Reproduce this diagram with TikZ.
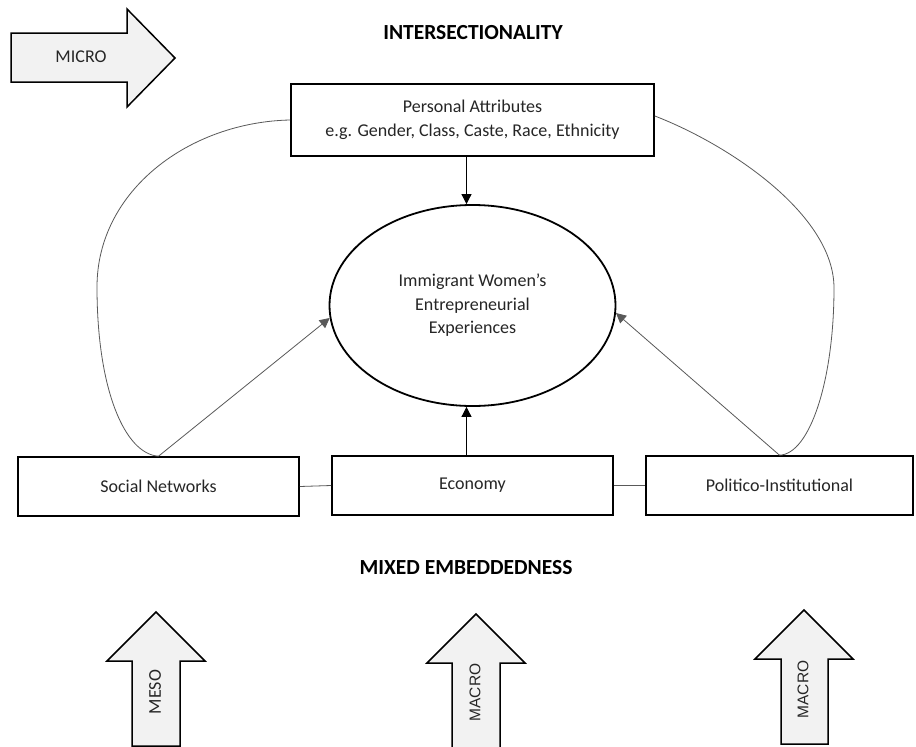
\documentclass[tikz,border=0pt]{standalone}
\usepackage{fontspec}
\setmainfont{Carlito}
\newfontfamily\arialfont{Liberation Sans}
\usetikzlibrary{arrows.meta,shapes.geometric}

\definecolor{txt}{HTML}{262626}
\definecolor{blockfill}{HTML}{F2F2F2}
\definecolor{linkgray}{HTML}{595959}

\tikzset{
  box/.style={draw=black, line width=1.6pt, minimum width=#1, minimum height=59pt,
    inner sep=0pt, text=txt, font=\fontsize{18}{24}\selectfont, align=center},
  oval/.style={ellipse, draw=black, line width=1.8pt, minimum width=286pt,
    minimum height=201pt, inner sep=0pt, text=txt,
    font=\fontsize{18}{23.5}\selectfont, align=center},
  heading/.style={text=black, font=\fontsize{21.5}{25}\selectfont\bfseries, inner sep=0pt},
  blockarrow/.style={draw=black, line width=1.5pt, fill=blockfill, line join=miter},
  blocktext/.style={text=txt, font=\fontsize{18}{22}\selectfont, inner sep=0pt},
  blocktextarial/.style={text=txt, font=\arialfont\fontsize{15.5}{20}\selectfont, inner sep=0pt},
  tip/.style={-{Triangle[length=10pt,width=10pt]}},
  link/.style={draw=linkgray, line width=0.8pt},
  straight/.style={draw=black, line width=0.8pt},
}

\begin{document}
\begin{tikzpicture}[x=1pt, y=-1pt]
\path[use as bounding box, clip] (0,0) rectangle (916,747);
\fill[white] (0,0) rectangle (916,747);

% headings
\node[heading] (inter) at (473,33) {INTERSECTIONALITY};
\node[heading] (mixed) at (466,568) {MIXED EMBEDDEDNESS};

% micro block arrow
\draw[blockarrow] (11,33) -- (127,33) -- (127,9) -- (175,58) -- (127,107)
  -- (127,82) -- (11,82) -- cycle;
\node[blocktext] (micro) at (81,57) {MICRO};

% level boxes
\node[box=363pt, minimum height=72pt] (pa) at (472.5,120)
  {Personal Attributes\\e.g. Gender, Class, Caste, Race, Ethnicity};
\node[oval] (el) at (472.5,305.5)
  {Immigrant Women’s\\Entrepreneurial\\Experiences};
\node[box=281pt] (sn) at (158.5,486.5) {Social Networks};
\node[box=281pt] (ec) at (472.5,485.5) {Economy};
\node[box=267pt] (po) at (779.5,485.5) {Politico-Institutional};

% connectors
\draw[straight, tip] ([xshift=-6pt]pa.south) -- ([xshift=-6pt]el.north);
\draw[straight, tip] ([xshift=-6pt]ec.north) -- ([xshift=-6pt]el.south);
\draw[link, tip] (sn.north) -- (el.185);
\draw[link, tip] (po.north) -- (el.-3);
\draw[link] (sn.east) -- (ec.west);
\draw[link] (ec.east) -- (po.west);

% curved ties from personal attributes to the outer boxes
\coordinate (lmid) at (97,287);
\coordinate (rmid) at (834,288);
\draw[link] (pa.west) .. controls (190,122) and (97,190) .. (lmid)
  .. controls (97,390) and (125,454) .. (sn.north);
\draw[link] ([yshift=4pt]pa.east) .. controls (730,145) and (834,215) .. (rmid)
  .. controls (834,380) and (810,454) .. (po.north);

% meso / macro block arrows
\draw[blockarrow] (132,746) -- (132,661) -- (107,661) -- (156,612) -- (205,661)
  -- (180,661) -- (180,746) -- cycle;
\node[blocktext, rotate=90] (meso) at (155,692) {MESO};

\draw[blockarrow] (452,750) -- (452,663) -- (427,663) -- (476,614) -- (525,663)
  -- (500,663) -- (500,750) -- cycle;
\node[blocktextarial, rotate=90] (macroa) at (475,692.5) {MACRO};

\draw[blockarrow] (781,744) -- (781,659) -- (755,659) -- (804,610) -- (853,659)
  -- (828,659) -- (828,744) -- cycle;
\node[blocktextarial, rotate=90] (macrob) at (803,689.5) {MACRO};
\end{tikzpicture}
\end{document}
